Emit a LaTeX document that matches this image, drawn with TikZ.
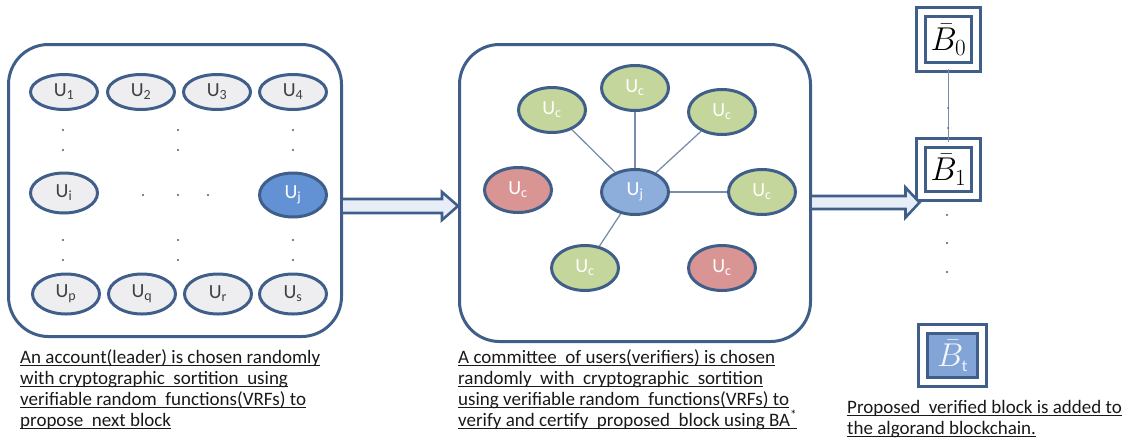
\RequirePackage{fix-cm}
\documentclass[tikz,border=0pt]{standalone}
\usepackage{fontspec}
\setmainfont{Carlito}
\usetikzlibrary{shapes.geometric,calc}

\definecolor{edge}{RGB}{64,94,138}
\definecolor{usergrey}{RGB}{238,238,240}
\definecolor{leadblue}{RGB}{98,145,212}
\definecolor{leadsoft}{RGB}{141,174,219}
\definecolor{vgreen}{RGB}{196,214,155}
\definecolor{vred}{RGB}{217,149,148}
\definecolor{blockblue}{RGB}{130,164,214}
\definecolor{arrowfill}{RGB}{232,238,247}
\definecolor{linkgrey}{RGB}{122,142,172}
\definecolor{labeltext}{RGB}{64,64,64}
\definecolor{dotgrey}{RGB}{90,90,90}

% underlined line of caption text, rule at fixed depth
\newcommand\ulline[1]{\setbox0\hbox{#1}\rlap{\rule[-3.2pt]{\wd0}{1.1pt}}\box0}

\tikzset{
  frame/.style={draw=edge, line width=3pt, rounded corners=40pt, inner sep=0pt},
  user/.style={ellipse, draw=edge, line width=3pt, inner sep=0pt,
    minimum width=67pt, minimum height=35pt,
    font=\fontsize{20}{22}\selectfont},
  greyuser/.style={user, fill=usergrey, text=labeltext},
  tall/.style={minimum height=40pt},
  leader/.style={user, fill=leadblue, text=white, minimum height=44pt},
  leadermid/.style={user, fill=leadsoft, text=white, minimum height=45pt},
  goodv/.style={user, fill=vgreen, text=white, minimum height=45pt},
  badv/.style={user, fill=vred, text=white, minimum height=45pt},
  block/.style={rectangle, draw=edge, line width=3pt, double=white,
    double distance=6pt, inner sep=0pt, minimum width=55pt, minimum height=55pt,
    fill=white, font=\fontsize{33}{35}\selectfont},
  link/.style={draw=linkgrey, line width=1.3pt},
  harrow/.style={draw=edge, line width=2.6pt, fill=arrowfill, line join=miter},
  caption/.style={anchor=base west, inner sep=0pt, text=black!90,
    font=\fontsize{19}{21}\selectfont},
  smalldot/.style={fill=dotgrey, draw=none, circle, inner sep=0pt, minimum size=2.2pt},
}

\begin{document}
\begin{tikzpicture}[x=1pt, y=-1pt]
\useasboundingbox (0,0) rectangle (1139,445);

% ---------- leader selection ----------
\node[frame, minimum width=333pt, minimum height=292pt] (lbox) at (175,190.5) {};

\node[greyuser] (u1) at (64,92)  {U\textsubscript{1}};
\node[greyuser] (u2) at (141,92) {U\textsubscript{2}};
\node[greyuser] (u3) at (217,92) {U\textsubscript{3}};
\node[greyuser] (u4) at (293,92) {U\textsubscript{4}};
\node[greyuser, tall] (ui) at (64,193) {U\textsubscript{i}};
\node[leader] (uj) at (293,195) {U\textsubscript{j}};
\node[greyuser, tall] (up) at (66,294)  {U\textsubscript{p}};
\node[greyuser, tall] (uq) at (142,294) {U\textsubscript{q}};
\node[greyuser, tall] (ur) at (218,294) {U\textsubscript{r}};
\node[greyuser, tall] (us) at (293,294) {U\textsubscript{s}};

\foreach \dx in {63,178,293}{
  \foreach \dy in {130,150,240,260}{
    \node[smalldot] at (\dx,\dy) {};
  }
}
\foreach \dx in {143,178,208}{ \node[smalldot] at (\dx,195) {}; }

% ---------- committee ----------
\node[frame, minimum width=351pt, minimum height=297pt] (mbox) at (635,193) {};

\node[leadermid] (cj) at (635,192) {U\textsubscript{j}};
\node[goodv] (ct)  at (635,88)  {U\textsubscript{c}};
\node[goodv] (cul) at (552,110) {U\textsubscript{c}};
\node[goodv] (cur) at (722,112) {U\textsubscript{c}};
\node[goodv] (cr)  at (762,192) {U\textsubscript{c}};
\node[goodv] (cbl) at (585,268) {U\textsubscript{c}};
\node[badv]  (cl)  at (518,190) {U\textsubscript{c}};
\node[badv]  (cbr) at (722,268) {U\textsubscript{c}};

\draw[link] (cj) -- (ct);
\draw[link] (cj) -- (cul);
\draw[link] (cj) -- (cur);
\draw[link] (cj) -- (cr);
\draw[link] (cj) -- (cbl);

% ---------- blockchain ----------
\node[block] (b0) at (948.5,39.5) {$\bar{B}_0$};
\node[block, minimum height=53pt] (b1) at (948.5,169.5) {$\bar{B}_1$};
\node[block, fill=blockblue, text=white!90!blockblue, minimum width=59pt, minimum height=53pt]
  (bt) at (952.5,355.5) {$\bar{B}_{\scriptscriptstyle\mathrm{t}}$};

\draw[link, line width=1pt] (b0) -- (b1);
\node[smalldot, minimum size=1.6pt] at (948,108) {};
\node[smalldot, minimum size=1.6pt] at (948,128) {};
\foreach \dy in {215,243,272}{ \node[smalldot] at (947,\dy) {}; }

% ---------- hollow arrows between stages ----------
\path (lbox.east) ++(0,15.5) coordinate (a1s);
\path (mbox.west) ++(0,13)   coordinate (a1e);
\draw[harrow] ($(a1s)+(0,-7)$) -- ($(a1e)+(-16,-7)$) -- ($(a1e)+(-16,-14)$) -- (a1e)
  -- ($(a1e)+(-16,14)$) -- ($(a1e)+(-16,7)$) -- ($(a1s)+(0,7)$);

\path (mbox.east) ++(0,9.5) coordinate (a2s);
\path (b1.west)   ++(0,33)  coordinate (a2e);
\draw[harrow] ($(a2s)+(0,-6.5)$) -- ($(a2e)+(-14,-6.5)$) -- ($(a2e)+(-14,-15)$) -- (a2e)
  -- ($(a2e)+(-14,15)$) -- ($(a2e)+(-14,6.5)$) -- ($(a2s)+(0,6.5)$);

% ---------- captions ----------
\node[caption] (c1a) at (20,363) {\ulline{An account(leader) is chosen randomly}};
\node[caption] (c1b) at (20,384) {\ulline{with cryptographic\ \ sortition\ \ using}};
\node[caption] (c1c) at (20,405) {\ulline{verifiable random\ \ functions(VRFs) to}};
\node[caption] (c1d) at (20,426) {\ulline{propose\ \ next block}};

\node[caption] (c2a) at (458,363) {\ulline{A committee\ \ of users(verifiers) is chosen}};
\node[caption] (c2b) at (458,384) {\ulline{randomly\ \ with\ \ cryptographic\ \ sortition}};
\node[caption] (c2c) at (458,405) {\ulline{using verifiable random\ \ functions(VRFs) to}};
\node[caption] (c2d) at (458,426) {\ulline{verify and certify\ \ proposed\ \ block using BA\textsuperscript{*}}};

\node[caption] (c3a) at (847,413) {\ulline{Proposed\ \ verified block is added to}};
\node[caption] (c3b) at (847,434) {\ulline{the algorand blockchain.}};
\end{tikzpicture}
\end{document}
